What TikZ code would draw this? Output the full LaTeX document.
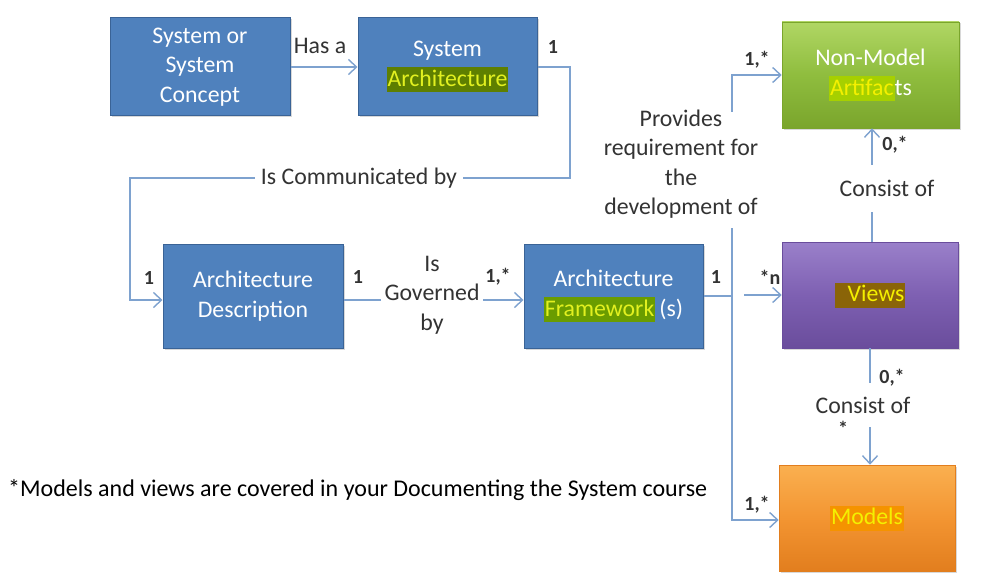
\documentclass[tikz,border=0pt]{standalone}
\usepackage{fontspec}
\setmainfont{Carlito}
\usetikzlibrary{arrows.meta,shadows}
\definecolor{boxblue}{HTML}{4F81BD}
\definecolor{boxblueD}{HTML}{3A6396}
\definecolor{connc}{HTML}{7EA2CF}
\definecolor{labc}{HTML}{333333}
\definecolor{hlA}{HTML}{5E7F00}
\definecolor{hlF}{HTML}{6A9C00}
\definecolor{hlN}{HTML}{A6D000}
\definecolor{hlV}{HTML}{8A6408}
\definecolor{hlM}{HTML}{F59300}
\definecolor{yelA}{HTML}{E2F020}
\definecolor{yelB}{HTML}{F4F000}
\definecolor{gT}{HTML}{B0D664}
\definecolor{gM}{HTML}{8FBD3E}
\definecolor{gB}{HTML}{7AA52C}
\definecolor{vT}{HTML}{9A80CA}
\definecolor{vM}{HTML}{7E60B2}
\definecolor{vB}{HTML}{6A4D9C}
\definecolor{oT}{HTML}{FAB050}
\definecolor{oM}{HTML}{F39532}
\definecolor{oB}{HTML}{E27E1E}
\newcommand{\hlt}[3]{{\setlength{\fboxsep}{1pt}\colorbox{#1}{\color{#2}\vrule height 18pt depth 5pt width 0pt #3}}}
\tikzset{
  bluebox/.style={draw=boxblueD, line width=1pt, fill=boxblue, text=white, align=center,
    font=\fontsize{23.8}{29.5}\selectfont, drop shadow={shadow xshift=1.5pt, shadow yshift=-1.5pt, opacity=0.3}},
  gradbox/.style={draw=#1, line width=0.6pt, text=white, align=center,
    font=\fontsize{23.8}{29.5}\selectfont, drop shadow={shadow xshift=1.5pt, shadow yshift=-1.5pt, opacity=0.3}},
  conn/.style={draw=connc, line width=1.4pt},
  arr/.style={conn, -{Straight Barb[length=8pt,width=15pt,line width=1.4pt]}},
  lab/.style={text=labc, font=\fontsize{23.8}{29.5}\selectfont, align=center, inner sep=2pt},
  mult/.style={text=labc, font=\fontsize{20}{22}\selectfont\bfseries, inner sep=0pt},
}
\begin{document}
\begin{tikzpicture}[x=1pt,y=-1pt]
\useasboundingbox[fill=white] (0,0) rectangle (987,583);

% boxes
\node[bluebox, minimum width=180pt, minimum height=98pt] (sys) at (200,67) {System or\\System\\Concept};
\node[bluebox, minimum width=179pt, minimum height=98pt] (sa) at (447.5,67) {System\\\hlt{hlA}{yelA}{Architecture}};
\node[bluebox, minimum width=180pt, minimum height=104pt] (ad) at (253,296) {Architecture\\Description};
\node[bluebox, minimum width=179pt, minimum height=104pt] (af) at (613.5,296) {Architecture\\\hlt{hlF}{yelA}{Framework}\,(s)};
\node[gradbox=gB, top color=gT, bottom color=gB, middle color=gM, minimum width=177pt, minimum height=106pt] (nm) at (870.5,75) {Non-Model\\\hlt{hlN}{yelB}{Artifac}ts};
\node[gradbox=vB, top color=vT, bottom color=vB, middle color=vM, minimum width=176pt, minimum height=106pt] (vw) at (870,295) {\hlt{hlV}{yelB}{\hspace{12pt}Views}};
\node[gradbox=oB, top color=oT, bottom color=oB, middle color=oM, minimum width=176pt, minimum height=106pt] (md) at (867,518) {\hlt{hlM}{yelB}{Models}};

% coordinates
\coordinate (c1) at (570,67);
\coordinate (c2) at (570,178);
\coordinate (c3) at (130,178);
\coordinate (c4) at (130,300);
\coordinate (jn) at (732,296);
\coordinate (jtop) at (732,112);
\coordinate (jmid) at (732,228);
\coordinate (vs) at (744,295);

% connectors
\draw[arr] (sys.east) -- (sa.west);
\draw[arr] (sa.east) -- (c1) -- (c2) -- (c3) -- (c4) -- ([yshift=-4pt]ad.west);
\draw[arr] ([yshift=-4pt]ad.east) -- ([yshift=-4pt]af.west);
\draw[conn] (af.east) -- (jn);
\draw[arr] (jtop) |- (nm.west);
\draw[arr] (jmid) |- ([yshift=-2pt]md.west);
\draw[arr] (vs) -- (vw.west);
\draw[arr] ([xshift=2pt]vw.north) -- ([xshift=1.5pt]nm.south);
\draw[arr] (vw.south) -- ([xshift=3pt]md.north);

% labels
\node[lab] (l1) at (320,46) {Has a};
\node[lab, fill=white, inner xsep=6pt] (l2) at (359,178) {Is Communicated by};
\node[lab, fill=white, inner xsep=4pt] (l3) at (432,295) {Is\\Governed\\by};
\node[lab] (l4) at (681,164) {Provides\\requirement for\\the\\development of};
\node[lab, fill=white, minimum height=47pt, inner xsep=0pt] (l5) at (887,188) {Consist of};
\node[lab, fill=white, minimum height=44pt, inner xsep=0pt] (l6) at (863,405) {Consist of};

% multiplicities
\node[mult] (m1) at (553,47) {1};
\node[mult] (m2) at (149,278) {1};
\node[mult] (m3) at (358,277) {1};
\node[mult] (m4) at (498,277) {1,*};
\node[mult] (m5) at (716,277) {1};
\node[mult] (m6) at (770,277) {*n};
\node[mult] (m7) at (757,60) {1,*};
\node[mult] (m8) at (895,145) {0,*};
\node[mult] (m9) at (892,378) {0,*};
\node[mult] (m10) at (843,428) {*};
\node[mult] (m11) at (757,505) {1,*};

% footnote
\node[anchor=west, inner sep=0pt, text=black, font=\fontsize{24}{29}\selectfont] (fn) at (8,490) {*Models and views are covered in your Documenting the System course};
\end{tikzpicture}
\end{document}
